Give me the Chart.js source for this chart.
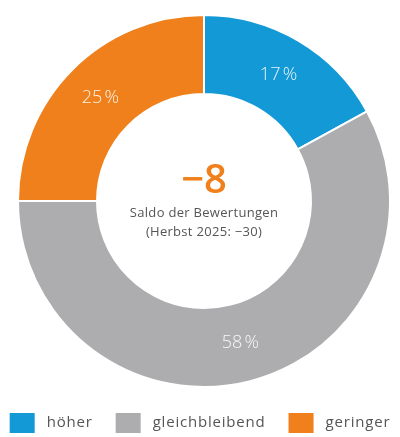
<!DOCTYPE html>
<html>
<head>
<meta charset="utf-8">
<script src="https://cdn.jsdelivr.net/npm/chart.js@4/dist/chart.umd.min.js"></script>
<style>
  html, body { margin: 0; padding: 0; background: #ffffff; }
  #wrap { width: 400px; height: 437px; }
</style>
</head>
<body>
<div id="wrap"><canvas id="c" width="400" height="437"></canvas></div>
<script>
const categories = ["höher", "gleichbleibend", "geringer"];
const shares = [17, 58, 25];
const colors = ["#1399d6", "#adadaf", "#ef801b"];
const saldoValue = "−8";
const saldoLines = ["Saldo der Bewertungen", "(Herbst 2025: −30)"];

const FONT = "'Open Sans', 'DejaVu Sans', sans-serif";

const sliceLabels = {
  id: "sliceLabels",
  afterDatasetsDraw(chart) {
    const ctx = chart.ctx;
    const meta = chart.getDatasetMeta(0);
    ctx.save();
    ctx.fillStyle = "rgba(255,255,255,0.9)";
    ctx.font = "300 18px " + FONT;
    ctx.textAlign = "center";
    ctx.textBaseline = "middle";
    meta.data.forEach((arc, i) => {
      const p = arc.getCenterPoint();
      ctx.fillText(shares[i] + "\u202F%", p.x, p.y);
    });
    ctx.restore();
  }
};

const centerText = {
  id: "centerText",
  afterDraw(chart) {
    const ctx = chart.ctx;
    const a = chart.chartArea;
    const cx = (a.left + a.right) / 2;
    const cy = (a.top + a.bottom) / 2;
    ctx.save();
    ctx.textAlign = "center";
    ctx.textBaseline = "middle";
    ctx.fillStyle = colors[2];
    ctx.font = "600 40px " + FONT;
    ctx.fillText(saldoValue, cx, cy - 19);
    ctx.fillStyle = "#555555";
    ctx.font = "13px " + FONT;
    ctx.letterSpacing = "0.3px";
    ctx.fillText(saldoLines[0], cx, cy + 12);
    ctx.fillText(saldoLines[1], cx, cy + 31);
    ctx.restore();
  }
};

const customLegend = {
  id: "customLegend",
  afterDraw(chart) {
    const ctx = chart.ctx;
    const boxW = 25, boxH = 20, gapText = 12, gapItem = 23;
    ctx.save();
    ctx.font = "15px " + FONT;
    ctx.letterSpacing = "0.8px";
    const widths = categories.map(t => ctx.measureText(t).width);
    let total = 0;
    widths.forEach((w, i) => { total += boxW + gapText + w + (i < widths.length - 1 ? gapItem : 0); });
    let x = (chart.width - total) / 2;
    const top = chart.height - 24;
    categories.forEach((t, i) => {
      ctx.fillStyle = colors[i];
      ctx.fillRect(x, top, boxW, boxH);
      ctx.fillStyle = "#555555";
      ctx.textAlign = "left";
      ctx.textBaseline = "middle";
      ctx.fillText(t, x + boxW + gapText, top + boxH / 2);
      x += boxW + gapText + widths[i] + gapItem;
    });
    ctx.restore();
  }
};

new Chart(document.getElementById("c"), {
  type: "doughnut",
  data: {
    labels: categories,
    datasets: [{
      data: shares,
      backgroundColor: colors,
      borderColor: "#ffffff",
      borderWidth: 2,
      hoverOffset: 0
    }]
  },
  options: {
    responsive: false,
    animation: false,
    cutout: 107,
    layout: { padding: { left: 17, right: 9, top: 14, bottom: 49 } },
    plugins: {
      legend: { display: false },
      tooltip: { enabled: false }
    }
  },
  plugins: [sliceLabels, centerText, customLegend]
});
</script>
</body>
</html>
